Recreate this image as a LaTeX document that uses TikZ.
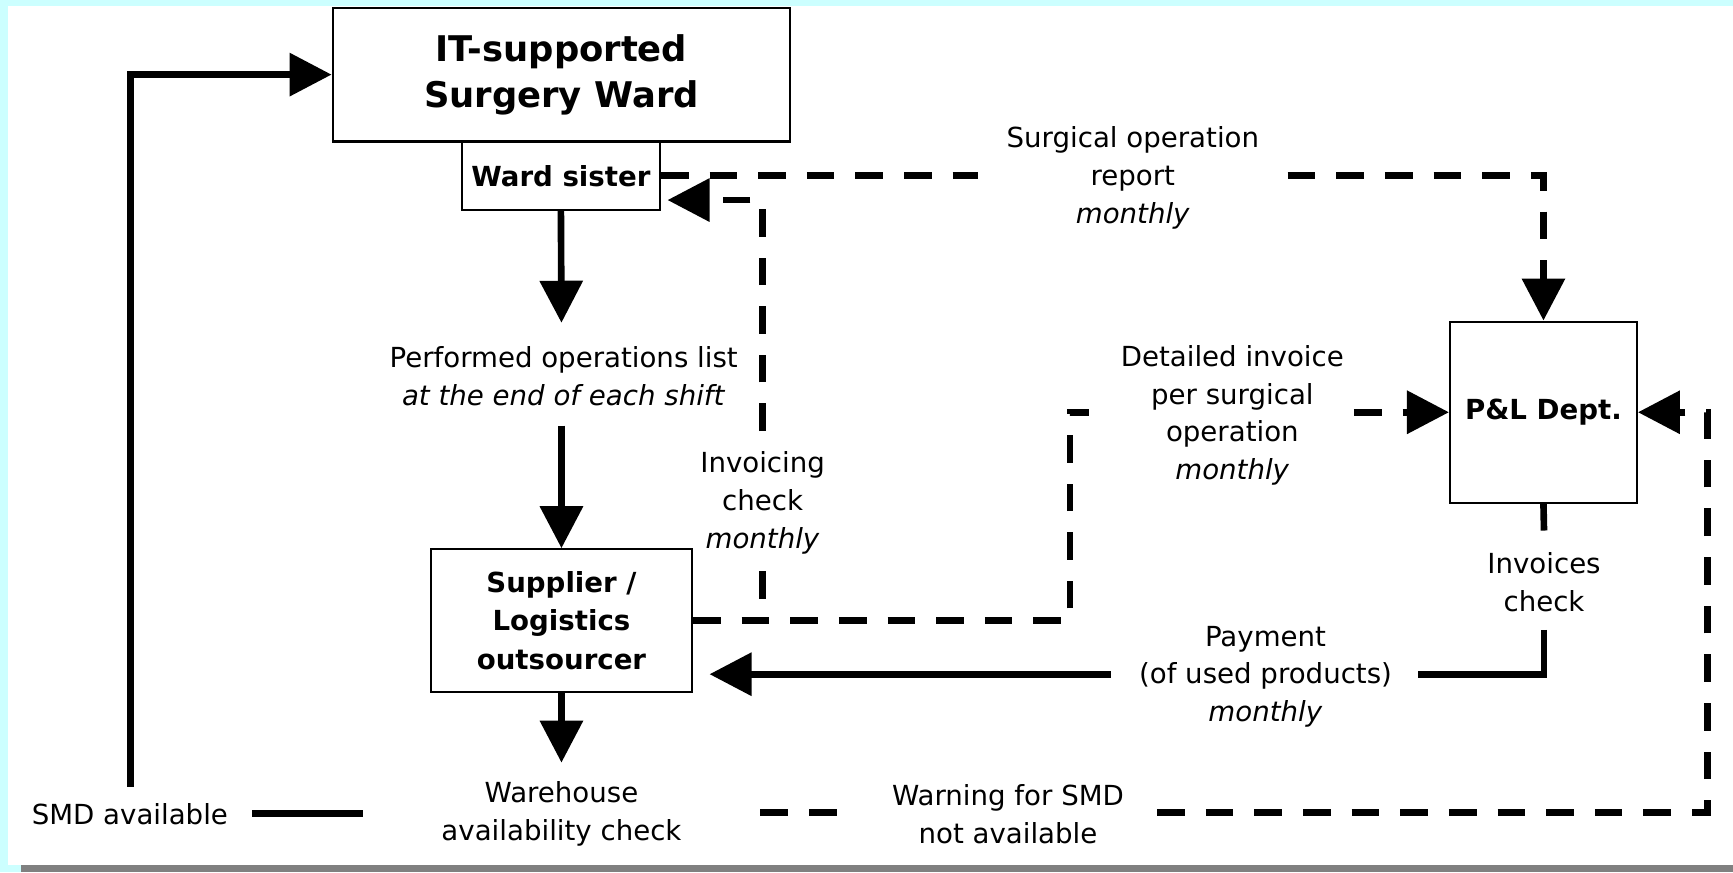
\documentclass[tikz,border=0pt]{standalone}
\usepackage{fontspec}
\setmainfont{DejaVu Sans}
\usetikzlibrary{arrows.meta}
\definecolor{bgcyan}{HTML}{CCFFFF}
\definecolor{bargray}{HTML}{808080}
\begin{document}
\begin{tikzpicture}[x=0.5pt,y=-0.5pt,
 box/.style={draw=black,line width=1pt,fill=white,inner sep=0pt,align=center,font=\bfseries\fontsize{12.5}{17.25}\selectfont},
 lbl/.style={inner sep=0pt,align=center,font=\fontsize{12.5}{17}\selectfont},
 conn/.style={line width=3pt},
 dsh/.style={line width=3pt,dash pattern=on 12.5pt off 9.5pt},
 tip/.style={-{Triangle[length=19pt,width=19pt]}}
]
% background
\fill[bgcyan] (0,0) rectangle (1568,789);
\fill[white] (7.5,5.5) rectangle (1568,783);
\fill[bargray] (19,783) rectangle (1568,789);
\useasboundingbox (0,0) rectangle (1568,789);

% boxes
\node[box,minimum width=207pt,minimum height=60.5pt,font=\bfseries\fontsize{16}{21}\selectfont] (it) at (508,67.5) {IT-supported\\Surgery Ward};
\node[box,minimum width=89.5pt,minimum height=31pt] (ws) at (507.5,159) {Ward sister};
\node[box,minimum width=118pt,minimum height=64.5pt] (sup) at (508,561.5) {Supplier /\\Logistics\\outsourcer};
\node[box,minimum width=84.5pt,minimum height=82pt] (pl) at (1396.5,373) {P\&L Dept.};

% labels
\node[lbl] (perf) at (510,340.5) {Performed operations list\\\textit{at the end of each shift}};
\node[lbl] (surg) at (1025,161) {Surgical operation\\report\\\textit{monthly}};
\node[lbl] (inv) at (690,455) {Invoicing\\check\\\textit{monthly}};
\node[lbl] (det) at (1115,376) {Detailed invoice\\per surgical\\operation\\\textit{monthly}};
\node[lbl] (invchk) at (1397,527) {Invoices\\check};
\node[lbl] (pay) at (1145,612) {Payment\\(of used products)\\\textit{monthly}};
\node[lbl] (wh) at (508,736.5) {Warehouse\\availability check};
\node[lbl] (warn) at (912,736.5) {Warning for SMD\\not available};
\node[lbl] (smd) at (117.5,737) {SMD available};

% coordinates
\coordinate (p1) at (508,292);
\coordinate (p2) at (508,385);
\coordinate (p3) at (508,690);
\coordinate (s1) at (328,736);
\coordinate (s2) at (228,736);
\coordinate (s3) at (118,712);
\coordinate (w1) at (688,735);
\coordinate (w2) at (758,735);
\coordinate (w3) at (1047,735);
\coordinate (w4) at (1545,373);
\coordinate (q1) at (1397,480);
\coordinate (q2) at (1397,570);
\coordinate (q3) at (1283,610);
\coordinate (q4) at (1005,610);
\coordinate (i1) at (690,390);
\coordinate (i2) at (690,181);
\coordinate (j1) at (968,561.5);
\coordinate (j2) at (985,373);
\coordinate (j3) at (690,561.5);
\coordinate (j4) at (690,517);
\coordinate (j5) at (1225,373);
\coordinate (k1) at (885,159);
\coordinate (k2) at (1165,159);

% solid connectors
\draw[conn,tip] (ws.south) -- (p1);
\draw[conn,tip] (p2) -- (sup.north);
\draw[conn,tip] (sup.south) -- (p3);
\draw[conn] (s1) -- (s2);
\draw[conn,tip] (s3) |- (it.west);
\draw[conn] (pl.south) -- (q1);
\draw[conn] (q2) |- (q3);
\draw[conn,tip,shorten >=7.5pt] (q4) -- (sup.east |- q4);

% dashed connectors
\draw[dsh] (ws.east) -- (k1);
\draw[dsh,tip] (k2) -| (pl.north);
\draw[dsh] (sup.east) -- (j1) |- (j2);
\draw[dsh,tip] (j5) -- (pl.west);
\draw[dsh] (j4) -- (j3);
\draw[dsh,tip,shorten >=3pt] (i1) -- (i2) -- (ws.east |- i2);
\draw[dsh] (w1) -- (w2);
\draw[dsh,tip] (w3) -| (w4) -- (pl.east);
\end{tikzpicture}
\end{document}
